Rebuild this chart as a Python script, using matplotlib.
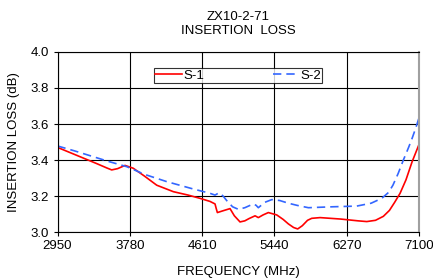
import matplotlib
matplotlib.use("Agg")
import matplotlib.pyplot as plt

plt.rcParams['font.family'] = ['Liberation Sans', 'DejaVu Sans']

s1_freq = [2950, 3100, 3250, 3400, 3520, 3572, 3640, 3725, 3820, 3950, 4089, 4280,
           4450, 4586, 4700, 4758, 4772, 4785, 4850, 4930, 4980, 5045, 5100, 5150,
           5218, 5255, 5310, 5370, 5466, 5540, 5600, 5660, 5707, 5760, 5820, 5868,
           5964, 6200, 6400, 6500, 6600, 6690, 6760, 6820, 6882, 6950, 7020, 7100]
s1_loss = [3.47, 3.44, 3.41, 3.38, 3.355, 3.345, 3.352, 3.37, 3.354, 3.31, 3.26, 3.224,
           3.205, 3.187, 3.17, 3.156, 3.13, 3.108, 3.118, 3.13, 3.09, 3.056, 3.062, 3.075,
           3.09, 3.08, 3.095, 3.108, 3.095, 3.07, 3.045, 3.025, 3.017, 3.035, 3.065, 3.076,
           3.08, 3.072, 3.062, 3.058, 3.065, 3.087, 3.12, 3.165, 3.215, 3.29, 3.39, 3.487]
s2_freq = [2950, 3150, 3350, 3550, 3745, 3950, 4203, 4500, 4700, 4758, 4804, 4850,
           4900, 4960, 5026, 5100, 5198, 5230, 5255, 5330, 5410, 5500, 5600, 5700,
           5830, 6100, 6385, 6550, 6672, 6750, 6800, 6860, 6920, 6980, 7020, 7060, 7100]
s2_loss = [3.478, 3.45, 3.42, 3.39, 3.363, 3.32, 3.28, 3.24, 3.215, 3.205, 3.218, 3.2,
           3.17, 3.14, 3.126, 3.135, 3.156, 3.148, 3.135, 3.165, 3.18, 3.175, 3.16, 3.148,
           3.135, 3.14, 3.144, 3.16, 3.187, 3.22, 3.26, 3.325, 3.40, 3.47, 3.52, 3.575, 3.635]
x_ticks = [2950, 3780, 4610, 5440, 6270, 7100]
y_ticks = [3.0, 3.2, 3.4, 3.6, 3.8, 4.0]

fig = plt.figure(figsize=(4.33, 2.8), dpi=100)
ax = fig.add_axes([0.1328, 0.1714, 0.835, 0.6429])

ax.plot(s1_freq, s1_loss, color='#ff0000', lw=1.2, label='S-1')
ax.plot(s2_freq, s2_loss, color='#3366ff', lw=1.2, ls=(0, (5, 3)), label='S-2')

ax.set_xlim(2950, 7100)
ax.set_ylim(3.0, 4.0)
ax.set_xticks(x_ticks)
ax.set_yticks(y_ticks)
ax.set_yticklabels([f"{v:.1f}" for v in y_ticks])
ax.grid(True, color='black', lw=0.8)
ax.tick_params(labelsize=9.5, length=3, color='black', pad=3)
for sp in ax.spines.values():
    sp.set_color('black')
    sp.set_linewidth(0.8)
ax.spines['right'].set_color('#a0a0a0')
ax.spines['right'].set_linewidth(1.5)

ax.set_xlabel('FREQUENCY (MHz)', fontsize=9.5, labelpad=10)
ax.set_ylabel('INSERTION LOSS (dB)', fontsize=9.5, labelpad=8)
ax.set_title('ZX10-2-71\nINSERTION  LOSS', fontsize=9.5, pad=13, linespacing=1.25)

leg = ax.legend(loc='upper center', bbox_to_anchor=(0.5, 0.91), ncol=2,
                fontsize=9.5, frameon=True, fancybox=False, edgecolor='black',
                handlelength=2.0, handletextpad=0.1, columnspacing=5.2,
                borderpad=0.1, borderaxespad=0)
leg.get_frame().set_linewidth(0.8)

fig.savefig('out.png', dpi=100)
